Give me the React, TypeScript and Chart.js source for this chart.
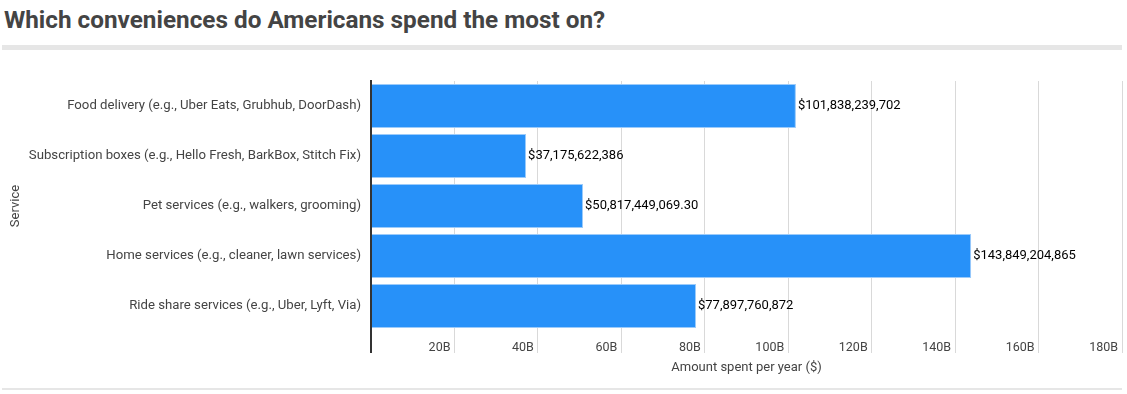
import React, { useEffect, useRef } from "react";
import { Chart, registerables } from "chart.js";

Chart.register(...registerables);

const categories = [
  "Food delivery (e.g., Uber Eats, Grubhub, DoorDash)",
  "Subscription boxes (e.g., Hello Fresh, BarkBox, Stitch Fix)",
  "Pet services (e.g., walkers, grooming)",
  "Home services (e.g., cleaner, lawn services)",
  "Ride share services (e.g., Uber, Lyft, Via)",
];
const amounts = [101838239702, 37175622386, 50817449069.3, 143849204865, 77897760872];
const xTickValues = [0, 20, 40, 60, 80, 100, 120, 140, 160, 180];
const titleText = "Which conveniences do Americans spend the most on?";
const xTitle = "Amount spent per year ($)";
const yTitle = "Service";

const FONT = "Roboto, 'Noto Sans', sans-serif";

function fmtMoney(v: number): string {
  const isInt = Math.abs(v - Math.round(v)) < 1e-9;
  return (
    "$" +
    v.toLocaleString("en-US", {
      minimumFractionDigits: isInt ? 0 : 2,
      maximumFractionDigits: 2,
    })
  );
}

const valueLabels = {
  id: "valueLabels",
  afterDatasetsDraw(chart: any) {
    const ctx = chart.ctx;
    const meta = chart.getDatasetMeta(0);
    ctx.save();
    ctx.font = `13px ${FONT}`;
    ctx.fillStyle = "#000";
    ctx.textAlign = "left";
    ctx.textBaseline = "middle";
    meta.data.forEach((bar: any, i: number) => {
      ctx.fillText(fmtMoney(amounts[i]), bar.x + 2, bar.y);
    });
    ctx.restore();
  },
};

export default function App() {
  const ref = useRef<HTMLCanvasElement | null>(null);
  useEffect(() => {
    if (!ref.current) return;
    const chart = new Chart(ref.current, {
      type: "bar",
      data: {
        labels: categories,
        datasets: [
          {
            data: amounts.map((v) => v / 1e9),
            backgroundColor: "#2791f9",
            borderColor: "#9ccbfa",
            borderWidth: 1,
            barPercentage: 0.88,
            categoryPercentage: 1,
          },
        ],
      },
      options: {
        indexAxis: "y",
        animation: false,
        responsive: false,
        maintainAspectRatio: false,
        layout: { padding: { top: 21, right: 5, left: 0, bottom: 0 } },
        plugins: {
          legend: { display: false },
          tooltip: { enabled: false },
        },
        scales: {
          x: {
            type: "linear",
            min: 0,
            max: 180,
            afterBuildTicks: (scale: any) => {
              scale.ticks = xTickValues.map((v) => ({ value: v }));
            },
            afterFit: (scale: any) => {
              scale.height = 55;
            },
            border: { display: false },
            grid: {
              color: (c: any) => (c.tick && c.tick.value === 0 ? "#333" : "#d9d9d9"),
              lineWidth: (c: any) => (c.tick && c.tick.value === 0 ? 2 : 1),
              drawTicks: true,
              tickLength: 22,
              tickColor: (c: any) => (c.tick && c.tick.value === 0 ? "#333" : "#d9d9d9"),
              tickWidth: (c: any) => (c.tick && c.tick.value === 0 ? 2 : 1),
            },
            ticks: {
              align: "end",
              padding: -13,
              labelOffset: -4,
              maxRotation: 0,
              autoSkip: false,
              color: "#444",
              font: { family: FONT, size: 12.5 },
              callback: (v: any) => (Number(v) === 0 ? "" : `${v}B`),
            },
            title: {
              display: true,
              text: xTitle,
              color: "#444",
              font: { family: FONT, size: 13 },
              padding: { top: 0, bottom: 10 },
            },
          },
          y: {
            type: "category",
            afterFit: (scale: any) => {
              scale.width = 371;
            },
            border: { display: true, color: "#333", width: 2 },
            grid: { display: false, drawTicks: false },
            ticks: {
              padding: 10,
              color: "#444",
              font: { family: FONT, size: 13.2 },
            },
            title: {
              display: true,
              text: yTitle,
              color: "#444",
              font: { family: FONT, size: 13 },
              padding: { top: 8, bottom: 0 },
            },
          },
        },
      },
      plugins: [valueLabels],
    });
    return () => chart.destroy();
  }, []);

  return (
    <div
      style={{
        position: "absolute",
        left: 0,
        top: 0,
        width: 1127,
        height: 394,
        background: "#fff",
        fontFamily: FONT,
      }}
    >
      <div
        style={{
          position: "absolute",
          left: 4,
          top: 4,
          fontSize: 24.3,
          fontWeight: 700,
          color: "#444",
          whiteSpace: "nowrap",
          lineHeight: "32px",
        }}
      >
        {titleText}
      </div>
      <div
        style={{
          position: "absolute",
          left: 2,
          top: 45,
          width: 1120,
          height: 5,
          background: "#e6e6e6",
        }}
      />
      <canvas
        ref={ref}
        width={1127}
        height={326}
        style={{ position: "absolute", left: 0, top: 60, width: 1127, height: 326 }}
      />
      <div
        style={{
          position: "absolute",
          left: 2,
          top: 388,
          width: 1120,
          height: 2,
          background: "#e6e6e6",
        }}
      />
    </div>
  );
}
